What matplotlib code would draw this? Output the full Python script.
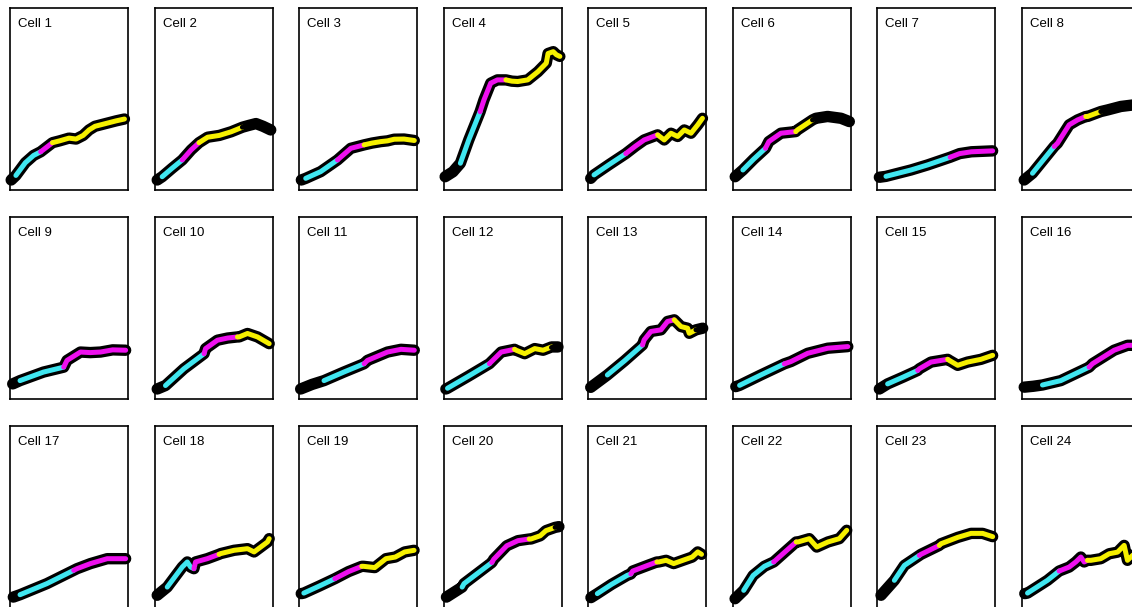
import matplotlib
matplotlib.use("Agg")
import matplotlib.pyplot as plt

plt.rcParams['font.family'] = ['Liberation Sans', 'DejaVu Sans']

# colour codes: k = black, c = cyan, m = magenta, y = yellow
stage_colors = {'k': '#000000', 'c': '#40e6f0', 'm': '#ee10ee', 'y': '#f6f000'}

cell_names = ['Cell %d' % i for i in range(1, 25)]

cell_x = [
    [0.01, 0.05, 0.13, 0.20, 0.26, 0.36, 0.42, 0.50, 0.56, 0.62, 0.67, 0.72, 0.78, 0.84, 0.90, 0.97],
    [0.023, 0.065, 0.15, 0.235, 0.31, 0.377, 0.45, 0.55, 0.65, 0.745, 0.80, 0.86, 0.92, 0.985],
    [0.02, 0.057, 0.184, 0.326, 0.439, 0.552, 0.62, 0.694, 0.75, 0.807, 0.89, 0.977],
    [0.014, 0.08, 0.143, 0.214, 0.31, 0.343, 0.40, 0.457, 0.529, 0.58, 0.629, 0.714, 0.80, 0.871, 0.886, 0.93, 0.957, 0.986],
    [0.023, 0.051, 0.18, 0.32, 0.40, 0.476, 0.59, 0.646, 0.703, 0.76, 0.816, 0.873, 0.93, 0.97],
    [0.023, 0.088, 0.18, 0.279, 0.308, 0.41, 0.536, 0.55, 0.678, 0.707, 0.806, 0.92, 0.99],
    [0.02, 0.076, 0.288, 0.43, 0.62, 0.70, 0.80, 0.98],
    [0.023, 0.093, 0.277, 0.305, 0.404, 0.475, 0.545, 0.56, 0.672, 0.73, 0.842, 0.955, 1.0],
    [0.023, 0.085, 0.284, 0.455, 0.483, 0.597, 0.68, 0.767, 0.87, 0.98],
    [0.023, 0.093, 0.249, 0.42, 0.433, 0.533, 0.62, 0.703, 0.717, 0.788, 0.873, 0.972],
    [0.014, 0.11, 0.212, 0.38, 0.552, 0.58, 0.75, 0.864, 0.977],
    [0.02, 0.034, 0.21, 0.389, 0.489, 0.602, 0.616, 0.688, 0.773, 0.844, 0.915, 0.97],
    [0.023, 0.164, 0.31, 0.462, 0.476, 0.533, 0.618, 0.674, 0.731, 0.745, 0.788, 0.844, 0.858, 0.915, 0.972],
    [0.028, 0.06, 0.24, 0.439, 0.496, 0.637, 0.807, 0.977],
    [0.02, 0.09, 0.22, 0.345, 0.359, 0.458, 0.599, 0.613, 0.684, 0.768, 0.881, 0.98],
    [0.023, 0.1, 0.178, 0.333, 0.573, 0.602, 0.785, 0.898, 0.98],
    [0.028, 0.085, 0.313, 0.54, 0.568, 0.682, 0.824, 0.98],
    [0.023, 0.108, 0.235, 0.278, 0.306, 0.334, 0.348, 0.447, 0.547, 0.561, 0.674, 0.788, 0.844, 0.9, 0.958, 0.972],
    [0.019, 0.041, 0.17, 0.304, 0.42, 0.532, 0.547, 0.642, 0.737, 0.816, 0.896, 0.975],
    [0.025, 0.158, 0.174, 0.41, 0.426, 0.536, 0.631, 0.726, 0.741, 0.82, 0.868, 0.946, 0.978],
    [0.025, 0.079, 0.2, 0.331, 0.363, 0.379, 0.505, 0.584, 0.6, 0.662, 0.726, 0.804, 0.883, 0.93, 0.962],
    [0.022, 0.095, 0.175, 0.27, 0.349, 0.365, 0.46, 0.54, 0.556, 0.651, 0.714, 0.81, 0.905, 0.968],
    [0.034, 0.147, 0.232, 0.359, 0.373, 0.528, 0.542, 0.684, 0.797, 0.895, 0.98],
    [0.028, 0.051, 0.22, 0.319, 0.404, 0.46, 0.503, 0.531, 0.559, 0.588, 0.672, 0.743, 0.814, 0.87, 0.898, 0.927, 0.97],
]

cell_y = [
    [0.055, 0.08, 0.15, 0.19, 0.21, 0.26, 0.27, 0.285, 0.28, 0.30, 0.33, 0.35, 0.36, 0.37, 0.38, 0.39],
    [0.055, 0.073, 0.12, 0.165, 0.22, 0.26, 0.29, 0.30, 0.32, 0.345, 0.355, 0.365, 0.35, 0.33],
    [0.055, 0.064, 0.101, 0.165, 0.229, 0.248, 0.258, 0.266, 0.27, 0.279, 0.28, 0.272],
    [0.073, 0.10, 0.147, 0.275, 0.43, 0.495, 0.587, 0.605, 0.605, 0.598, 0.596, 0.605, 0.65, 0.697, 0.75, 0.76, 0.743, 0.734],
    [0.064, 0.083, 0.14, 0.20, 0.24, 0.275, 0.303, 0.275, 0.312, 0.294, 0.33, 0.312, 0.358, 0.394],
    [0.073, 0.11, 0.17, 0.229, 0.266, 0.312, 0.321, 0.33, 0.385, 0.394, 0.404, 0.394, 0.376],
    [0.07, 0.075, 0.11, 0.138, 0.18, 0.20, 0.21, 0.215],
    [0.055, 0.092, 0.239, 0.257, 0.358, 0.385, 0.404, 0.404, 0.431, 0.44, 0.459, 0.468, 0.47],
    [0.083, 0.101, 0.148, 0.175, 0.212, 0.258, 0.255, 0.258, 0.27, 0.268],
    [0.055, 0.074, 0.166, 0.249, 0.277, 0.323, 0.335, 0.341, 0.341, 0.36, 0.341, 0.304],
    [0.055, 0.08, 0.101, 0.148, 0.194, 0.212, 0.258, 0.273, 0.268],
    [0.055, 0.059, 0.125, 0.194, 0.258, 0.273, 0.268, 0.249, 0.277, 0.268, 0.286, 0.286],
    [0.064, 0.132, 0.21, 0.297, 0.325, 0.371, 0.38, 0.426, 0.435, 0.426, 0.398, 0.389, 0.361, 0.38, 0.389],
    [0.068, 0.075, 0.132, 0.193, 0.206, 0.251, 0.279, 0.288],
    [0.055, 0.083, 0.12, 0.157, 0.166, 0.203, 0.218, 0.212, 0.185, 0.203, 0.218, 0.24],
    [0.065, 0.07, 0.077, 0.101, 0.175, 0.194, 0.268, 0.295, 0.295],
    [0.06, 0.073, 0.134, 0.207, 0.216, 0.244, 0.271, 0.271],
    [0.07, 0.115, 0.225, 0.253, 0.225, 0.216, 0.253, 0.271, 0.295, 0.299, 0.317, 0.326, 0.308, 0.335, 0.363, 0.381],
    [0.079, 0.082, 0.12, 0.161, 0.2, 0.229, 0.229, 0.222, 0.271, 0.28, 0.308, 0.317],
    [0.06, 0.115, 0.134, 0.25, 0.268, 0.342, 0.37, 0.379, 0.379, 0.397, 0.425, 0.443, 0.447],
    [0.057, 0.079, 0.13, 0.179, 0.187, 0.203, 0.234, 0.253, 0.253, 0.262, 0.244, 0.262, 0.28, 0.308, 0.295],
    [0.051, 0.097, 0.179, 0.229, 0.253, 0.262, 0.317, 0.363, 0.363, 0.381, 0.335, 0.363, 0.381, 0.427],
    [0.07, 0.152, 0.234, 0.289, 0.295, 0.344, 0.353, 0.388, 0.41, 0.41, 0.392],
    [0.079, 0.082, 0.152, 0.203, 0.225, 0.253, 0.28, 0.253, 0.262, 0.262, 0.271, 0.298, 0.307, 0.344, 0.262, 0.28, 0.307],
]

# stage sequence per cell and index of the last point of each stage
cell_stages = [
    'kcmy', 'kcmyk', 'kcmy', 'kcmy', 'kcmy', 'kcmyk', 'kcm', 'kcmyk',
    'kcm', 'kcmy', 'kcm', 'kcmyk', 'kcmyk', 'kcm', 'kcmy', 'kcm',
    'kcm', 'kcmy', 'kcmy', 'kcmyk', 'kcmy', 'kcmy', 'kcmy', 'kcmy',
]
cell_ends = [
    [1, 4, 5, 15], [1, 3, 5, 9, 13], [1, 3, 5, 11], [2, 4, 8, 17],
    [1, 3, 6, 13], [1, 3, 6, 8, 12], [1, 4, 7], [1, 2, 6, 8, 12],
    [1, 3, 9], [1, 3, 7, 11], [2, 4, 8], [1, 3, 5, 10, 11],
    [1, 3, 8, 13, 14], [1, 3, 7], [1, 3, 6, 11], [2, 4, 8],
    [1, 3, 7], [1, 5, 8, 15], [1, 3, 5, 11], [1, 3, 7, 11, 12],
    [1, 4, 7, 14], [1, 4, 7, 13], [1, 3, 5, 10], [1, 3, 8, 16],
]

W_PX, H_PX = 1132, 607
fig = plt.figure(figsize=(W_PX / 100, H_PX / 100), dpi=100)

box_w, box_h = 118, 182
col_left = [10 + 144.5 * i for i in range(8)]
row_top = [8, 217, 426]

for i, name in enumerate(cell_names):
    r, c = divmod(i, 8)
    left = col_left[c] / W_PX
    bottom = (H_PX - row_top[r] - box_h) / H_PX
    ax = fig.add_axes([left, bottom, box_w / W_PX, box_h / H_PX])
    ax.set_xlim(0, 1)
    ax.set_ylim(0, 1)
    ax.set_xticks([])
    ax.set_yticks([])
    for s in ax.spines.values():
        s.set_linewidth(1.2)

    xs, ys = cell_x[i], cell_y[i]
    # thick black outline under the whole trace
    ax.plot(xs, ys, color='black', lw=8.2, solid_capstyle='round',
            solid_joinstyle='round', clip_on=False, zorder=3)
    start = 0
    for stage, end in zip(cell_stages[i], cell_ends[i]):
        ax.plot(xs[start:end + 1], ys[start:end + 1], color=stage_colors[stage],
                lw=3.6, solid_capstyle='round', solid_joinstyle='round',
                clip_on=False, zorder=4)
        start = end

    ax.annotate(name, xy=(0, 1), xycoords='axes fraction', xytext=(6, -7.5),
                textcoords='offset points', ha='left', va='top', fontsize=9.5)

fig.savefig('out.png', dpi=100)
